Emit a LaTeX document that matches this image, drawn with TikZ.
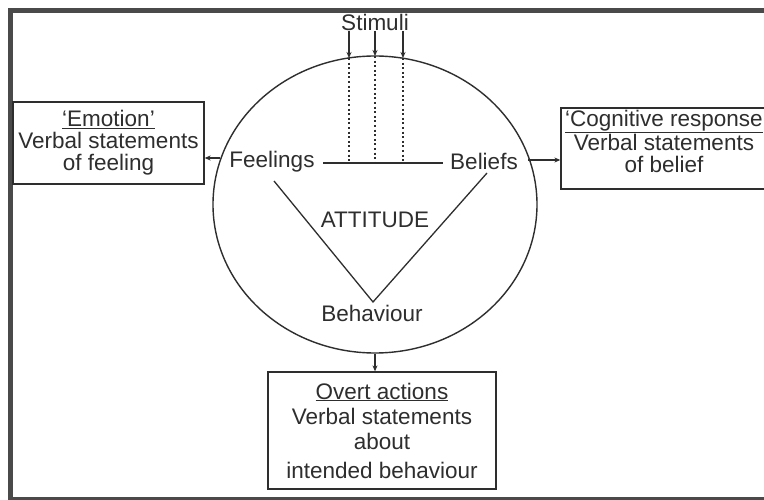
\documentclass[tikz,border=0pt]{standalone}
\usepackage{fontspec}
\setmainfont{Liberation Sans}
\usetikzlibrary{arrows.meta,shapes.geometric}
\definecolor{ink}{HTML}{2E2E2E}
\definecolor{framec}{HTML}{4A4A4A}
\begin{document}
\begin{tikzpicture}[x=1pt,y=-1pt,
  lbl/.style={font=\fontsize{22.5}{22}\selectfont, inner sep=0pt, text=ink, align=center},
  boxn/.style={draw=ink, line width=1.3pt, inner sep=0pt, font=\fontsize{22.5}{22}\selectfont, text=ink, align=center},
  ln/.style={draw=ink, line width=1.3pt},
  arr/.style={draw=ink, line width=1.3pt, -{Stealth[length=6pt,width=5pt]}},
  dotln/.style={draw=ink, line width=1.3pt, dash pattern=on 2pt off 2.6pt}]
\useasboundingbox (0,0) rectangle (764,500);
\clip (0,0) rectangle (764,500);
\fill[white] (0,0) rectangle (764,500);
% frame
\draw[framec, line width=4.5pt] (10.5,500) -- (10.5,10.5) -- (764,10.5);
\draw[framec, line width=3.5pt] (10.5,498.5) -- (764,498.5);
% circle
\node[draw=ink, ellipse, line width=1.4pt, minimum width=324pt, minimum height=297pt, inner sep=0pt] (circ) at (375,204.5) {};
% stimuli
\node[lbl] (stim) at (375,22) {Stimuli};
\coordinate (sa1) at (349,31); \coordinate (sb1) at (349,58); \coordinate (sc1) at (349,163);
\coordinate (sa2) at (375,31); \coordinate (sb2) at (375,56); \coordinate (sc2) at (375,163);
\coordinate (sa3) at (403,31); \coordinate (sb3) at (403,58); \coordinate (sc3) at (403,163);
\draw[arr] (sa1) -- (sb1);
\draw[arr] (sa2) -- (sb2);
\draw[arr] (sa3) -- (sb3);
\draw[dotln] (sb1) -- (sc1);
\draw[dotln] (sb2) -- (sc2);
\draw[dotln] (sb3) -- (sc3);
% inner texts
\node[lbl] (feel) at (272,162) {Feelings};
\node[lbl] (bel) at (484,161) {Beliefs};
\node[lbl] (att) at (375,220) {ATTITUDE};
\node[lbl] (beh) at (372,313) {Behaviour};
\coordinate (hl) at (323,163); \coordinate (hr) at (443,163);
\draw[ln] (hl) -- (hr);
\coordinate (vl) at (274,181); \coordinate (vr) at (487,173); \coordinate (vb) at (373,302);
\draw[ln] (vl) -- (vb) -- (vr);
% boxes
\node[boxn, minimum width=191pt, minimum height=82pt] (emo) at (108.5,143)
  {\underline{‘Emotion’}\\Verbal statements\\of feeling};
\node[boxn, minimum width=240pt, minimum height=81pt] (cog) at (681,148.5) {};
\node[lbl] (cogt) at (664,141.5) {\underline{‘Cognitive response}\\Verbal statements\\of belief};
\node[boxn, minimum width=228pt, minimum height=117pt, font=\fontsize{22.5}{25}\selectfont] (overt) at (382,430.5)
  {\underline{Overt actions}\\Verbal statements\\about\\[4pt]intended behaviour};
% connectors
\coordinate (la) at (220,158);
\coordinate (ra) at (528,160);
\draw[arr] (la) -- (emo.east |- la);
\draw[arr] (ra) -- (cog.west |- ra);
\draw[arr] (circ.south) -- (circ.south |- overt.north);
\end{tikzpicture}
\end{document}
